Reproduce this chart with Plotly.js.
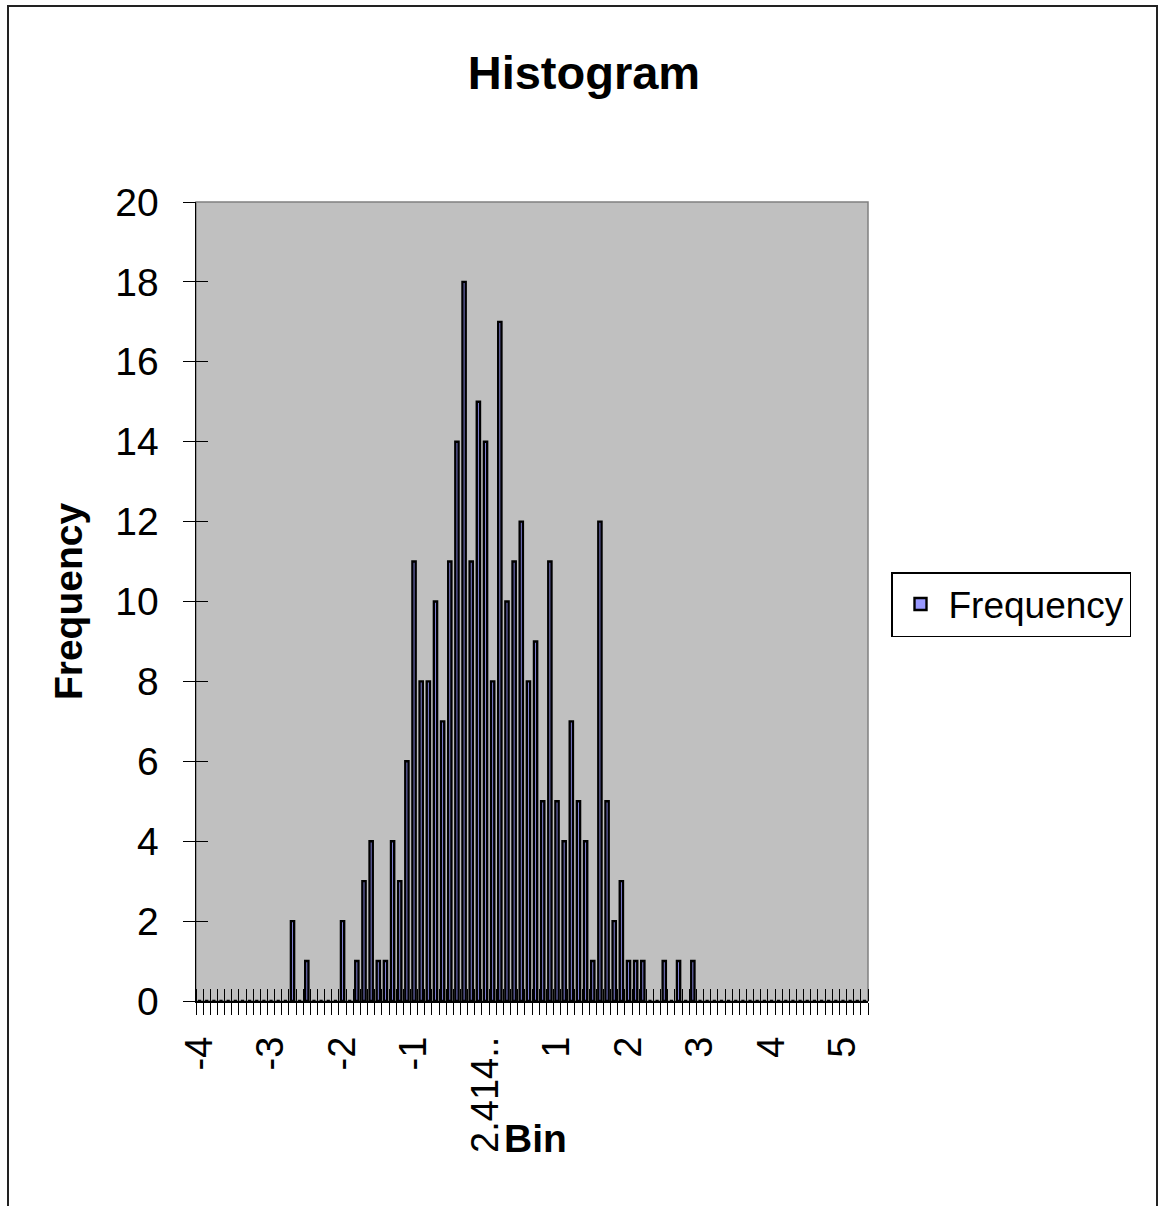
<!DOCTYPE html>
<html>
<head>
<meta charset="utf-8">
<script src="https://cdn.plot.ly/plotly-3.0.1.min.js"></script>
<style>html,body{margin:0;padding:0;background:#fff}#chart{width:1160px;height:1206px}</style>
</head>
<body>
<div id="chart"></div>
<script>
// Bin centres (category values, step 0.1)
const bins = [
  -4.0,-3.9,-3.8,-3.7,-3.6,-3.5,-3.4,-3.3,-3.2,-3.1,
  -3.0,-2.9,-2.8,-2.7,-2.6,-2.5,-2.4,-2.3,-2.2,-2.1,
  -2.0,-1.9,-1.8,-1.7,-1.6,-1.5,-1.4,-1.3,-1.2,-1.1,
  -1.0,-0.9,-0.8,-0.7,-0.6,-0.5,-0.4,-0.3,-0.2,-0.1,
   0.0, 0.1, 0.2, 0.3, 0.4, 0.5, 0.6, 0.7, 0.8, 0.9,
   1.0, 1.1, 1.2, 1.3, 1.4, 1.5, 1.6, 1.7, 1.8, 1.9,
   2.0, 2.1, 2.2, 2.3, 2.4, 2.5, 2.6, 2.7, 2.8, 2.9,
   3.0, 3.1, 3.2, 3.3, 3.4, 3.5, 3.6, 3.7, 3.8, 3.9,
   4.0, 4.1, 4.2, 4.3, 4.4, 4.5, 4.6, 4.7, 4.8, 4.9,
   5.0, 5.1, 5.2, 5.3
];
// Frequency per bin
const frequency = [
  0,0,0,0,0,0,0,0,0,0,
  0,0,0,2,0,1,0,0,0,0,
  2,0,1,3,4,1,1,4,3,6,
  11,8,8,10,7,11,14,18,11,15,
  14,8,17,10,11,12,8,9,5,11,
  5,4,7,5,4,1,12,5,2,3,
  1,1,1,0,0,1,0,1,0,1,
  0,0,0,0,0,0,0,0,0,0,
  0,0,0,0,0,0,0,0,0,0,
  0,0,0,0
];
// Category-axis labels (every 10th bin)
const tickVals = [-4,-3,-2,-1,0,1,2,3,4,5];
const tickText = ["-4","-3","-2","-1","2.414..","1","2","3","4","5"];
const yTickVals = [0,2,4,6,8,10,12,14,16,18,20];

const FONT = "Liberation Sans, Arial, Helvetica, sans-serif";

const traces = [
  {
    type: 'bar', name: 'Frequency', x: bins, y: frequency, width: 0.045,
    marker: {color: '#9999FF', line: {color: '#000000', width: 2.4}},
    showlegend: true, hoverinfo: 'x+y'
  },
  {
    type: 'scatter', mode: 'markers', x: [], y: [], xaxis: 'x2', yaxis: 'y2',
    showlegend: false, hoverinfo: 'skip'
  }
];

const xRange = [-4.05, 5.35];
const yRange = [0, 20];

const layout = {
  width: 1160, height: 1206,
  margin: {l: 196, r: 292, t: 202, b: 205, pad: 0},
  paper_bgcolor: '#ffffff',
  plot_bgcolor: '#c0c0c0',
  font: {family: FONT, color: '#000000', size: 36},
  title: {
    text: '<b>Histogram</b>', font: {family: FONT, size: 47, color: '#000'},
    x: 0.5034, xanchor: 'center', xref: 'container',
    y: 1 - 73/1206, yanchor: 'middle', yref: 'container'
  },
  bargap: 0,
  xaxis: {
    type: 'linear', range: xRange, autorange: false,
    tickmode: 'array', tickvals: tickVals, ticktext: tickText,
    ticks: 'outside', ticklen: 12, tickcolor: 'rgba(0,0,0,0)',
    tickangle: -90, tickfont: {family: FONT, size: 38, color: '#000'},
    ticklabelstandoff: 7,
    minor: {tickmode: 'linear', tick0: -4.05, dtick: 0.1, ticks: 'outside', ticklen: 12, tickwidth: 1, tickcolor: '#000', showgrid: false},
    showline: true, linecolor: '#000', linewidth: 1.5,
    showgrid: false, zeroline: false, fixedrange: true
  },
  xaxis2: {
    type: 'linear', overlaying: 'x', anchor: 'y2', range: xRange, autorange: false,
    tickmode: 'array', tickvals: [], showticklabels: false,
    minor: {tickmode: 'linear', tick0: -4.05, dtick: 0.1, ticks: 'inside', ticklen: 12, tickwidth: 1, tickcolor: '#000', showgrid: false},
    showline: false, showgrid: false, zeroline: false, fixedrange: true
  },
  yaxis: {
    range: yRange, autorange: false,
    tickmode: 'array', tickvals: yTickVals,
    ticks: 'outside', ticklen: 12, tickwidth: 1, tickcolor: '#000',
    tickfont: {family: FONT, size: 39, color: '#000'},
    ticklabelstandoff: 16,
    showline: true, linecolor: '#000', linewidth: 1.5,
    showgrid: false, zeroline: false, fixedrange: true,
    title: {text: '<b>Frequency</b>', font: {family: FONT, size: 39, color: '#000'}, standoff: 20}
  },
  yaxis2: {
    range: yRange, autorange: false, overlaying: 'y', anchor: 'x2', side: 'left',
    tickmode: 'array', tickvals: yTickVals, showticklabels: false,
    ticks: 'inside', ticklen: 12, tickwidth: 1, tickcolor: '#000',
    showline: false, showgrid: false, zeroline: false, fixedrange: true
  },
  legend: {
    x: (891-196)/672, y: (1001-572)/799, xanchor: 'left', yanchor: 'top',
    bgcolor: '#ffffff', bordercolor: '#000000', borderwidth: 1.5,
    itemwidth: 46, entrywidth: 250,
    font: {family: FONT, size: 37, color: '#000'}
  },
  annotations: [
    {text: '<b>Bin</b>', xref: 'paper', yref: 'paper', x: (535-196)/672, y: (1001-1138)/799,
     xanchor: 'center', yanchor: 'middle', showarrow: false,
     font: {family: FONT, size: 39, color: '#000'}}
  ],
  shapes: [
    {type: 'rect', xref: 'paper', yref: 'paper', x0: 0, x1: 1, y0: 0, y1: 1,
     line: {color: '#808080', width: 1.5}, fillcolor: 'rgba(0,0,0,0)', layer: 'below'},
    {type: 'rect', xref: 'paper', yref: 'paper', x0: (8-196)/672, x1: (1157-196)/672, y0: -0.3, y1: (1001-6)/799,
     line: {color: '#222222', width: 2}, fillcolor: 'rgba(0,0,0,0)', layer: 'above'}
  ]
};

Plotly.newPlot('chart', traces, layout, {staticPlot: true, displayModeBar: false});
</script>
</body>
</html>
